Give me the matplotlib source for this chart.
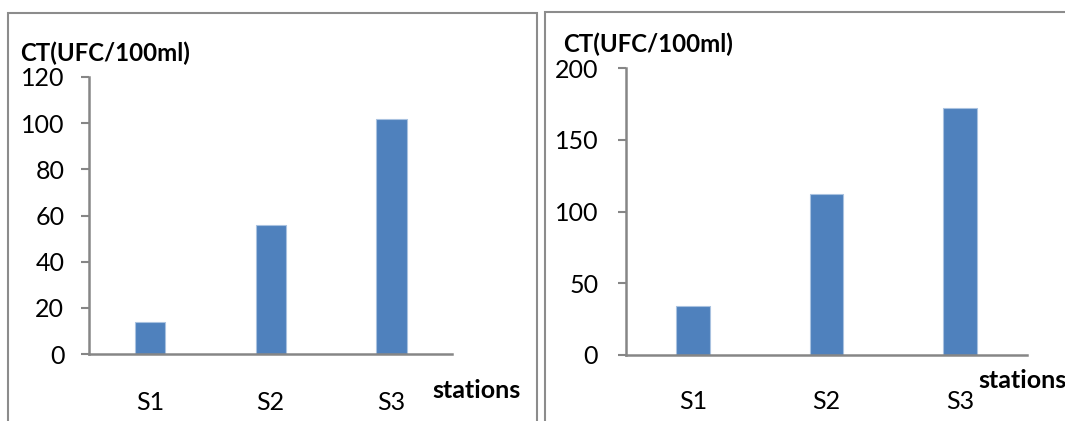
import matplotlib
matplotlib.use("Agg")
import matplotlib.pyplot as plt
from matplotlib.patches import Rectangle

plt.rcParams['font.family'] = ['Lato', 'DejaVu Sans']

categories = ["S1", "S2", "S3"]
values_left = [14, 56, 102]
values_right = [34, 112, 172]
yticks_left = [0, 20, 40, 60, 80, 100, 120]
yticks_right = [0, 50, 100, 150, 200]
ylabel_text = "CT(UFC/100ml)"
xlabel_text = "stations"

W, H = 1065, 421
fig = plt.figure(figsize=(W / 100, H / 100), dpi=100)
fig.patch.set_facecolor('white')

BAR = '#4F81BD'
EDGE = '#A9C2E0'
AX = '#868686'
BORDER = '#8C8C8C'

def fx(px):
    return px / W

def fy(py):
    return 1 - py / H

# panel borders
fig.patches.append(Rectangle((fx(8), fy(430)), fx(537) - fx(8), fy(13) - fy(430),
                             transform=fig.transFigure, fill=False, edgecolor=BORDER, linewidth=1.5))
fig.patches.append(Rectangle((fx(545), fy(430)), fx(1080) - fx(545), fy(12) - fy(430),
                             transform=fig.transFigure, fill=False, edgecolor=BORDER, linewidth=1.5))

def make_axes(x0, x1, y_top, y_bot, values, yticks, ypad, xpad):
    ax = fig.add_axes([fx(x0), fy(y_bot), fx(x1) - fx(x0), fy(y_top) - fy(y_bot)])
    x = list(range(len(categories)))
    ax.bar(x, values, width=0.25, color=BAR, edgecolor=EDGE, linewidth=0.8, zorder=2)
    ax.set_xlim(-0.5, len(categories) - 0.5)
    ax.set_ylim(yticks[0], yticks[-1])
    ax.set_yticks(yticks)
    ax.set_xticks(x)
    ax.set_xticklabels(categories)
    for s in ['top', 'right']:
        ax.spines[s].set_visible(False)
    for s in ['left', 'bottom']:
        ax.spines[s].set_color(AX)
        ax.spines[s].set_linewidth(1.8)
        ax.spines[s].set_zorder(3)
    ax.tick_params(axis='y', length=6, width=1.5, color=AX, labelsize=18, pad=ypad)
    ax.tick_params(axis='x', length=0, labelsize=18, pad=xpad)
    ax.set_facecolor('none')
    return ax

axL = make_axes(89.3, 452, 77, 354, values_left, yticks_left, 12, 27)
axR = make_axes(626, 1027, 68.3, 355, values_right, yticks_right, 14, 25)

fig.text(fx(20), fy(61), ylabel_text, fontsize=17.3, fontweight='bold', va='baseline', ha='left')
fig.text(fx(563), fy(52), ylabel_text, fontsize=17.3, fontweight='bold', va='baseline', ha='left')
fig.text(fx(432.7), fy(397.5), xlabel_text, fontsize=18, fontweight='bold', va='baseline', ha='left')
fig.text(fx(978.6), fy(387.8), xlabel_text, fontsize=18, fontweight='bold', va='baseline', ha='left')

fig.savefig("out.png", dpi=100, facecolor='white')
